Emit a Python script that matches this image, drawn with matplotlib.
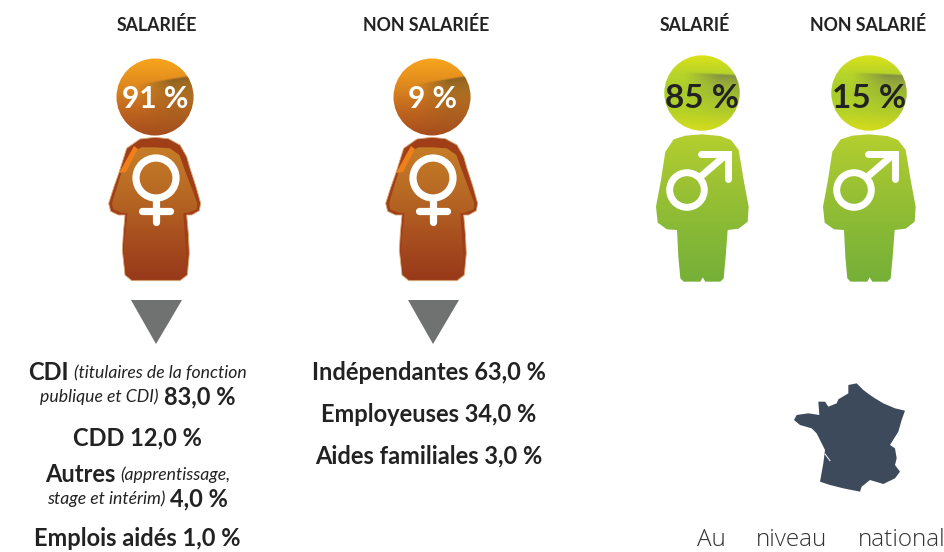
import numpy as np
import matplotlib
matplotlib.use("Agg")
import matplotlib.pyplot as plt
from matplotlib.patches import Circle, Polygon
from matplotlib.colors import LinearSegmentedColormap, to_rgb

# ---- data ----
female_headers = ["SALARIÉE", "NON SALARIÉE"]
male_headers = ["SALARIÉ", "NON SALARIÉ"]
female_pct = [91, 9]
male_pct = [85, 15]
employee_types = ["CDI", "CDD", "Autres", "Emplois aidés"]
employee_vals = ["83,0 %", "12,0 %", "4,0 %", "1,0 %"]
self_types = ["Indépendantes", "Employeuses", "Aides familiales"]
self_vals = ["63,0 %", "34,0 %", "3,0 %"]
footer_words = ["Au", "niveau", "national"]

FONT = "Lato"
W, H = 945, 552
fig = plt.figure(figsize=(W / 100, H / 100), dpi=100, facecolor="white")
ax = fig.add_axes([0, 0, 1, 1])
ax.set_xlim(0, W)
ax.set_ylim(H, 0)
ax.axis("off")

FEMALE_BODY = [(195,292),(235,296),(270,315),(290,350),(300,385),(318,440),(332,490),(328,512),(305,525),(290,525),
               (295,580),(298,640),(292,705),(270,722),(125,722),(105,705),(97,630),(100,580),(105,525),(85,525),
               (62,514),(56,490),(72,440),(88,395),(110,325),(150,297)]
FEMALE_INNER = [(195,322),(240,325),(268,345),(288,400),(322,490),(320,508),(295,518),(280,520),(288,640),(285,705),
                (268,718),(128,718),(108,705),(102,630),(112,520),(92,518),(70,508),(66,490),(95,395),(120,340),(155,322)]
MALE_BODY = [(185,283),(240,288),(272,300),(295,330),(310,420),(325,500),(322,545),(295,566),(262,570),(256,650),
             (250,715),(240,725),(195,725),(187,712),(180,725),(130,725),(120,715),(114,650),(110,570),(80,568),
             (52,548),(47,500),(62,420),(75,335),(100,298),(135,287)]
FRANCE = [(205,45),(230,40),(250,60),(270,75),(285,85),(310,100),(345,115),(375,122),(365,150),(355,185),(330,225),
          (345,235),(350,265),(345,285),(360,305),(345,325),(310,342),(270,330),(245,350),(240,365),(190,355),
          (150,345),(120,335),(130,280),(135,240),(110,190),(95,175),(60,165),(42,150),(50,135),(85,130),(118,135),
          (115,95),(135,95),(145,110),(170,100),(175,88),(205,70)]


def grad_fill(patch, colors, extent, z=2):
    cmap = LinearSegmentedColormap.from_list("g", colors)
    g = np.linspace(0, 1, 128).reshape(-1, 1)
    im = ax.imshow(g, cmap=cmap, extent=extent, aspect="auto", zorder=z)
    patch.set_transform(ax.transData)
    im.set_clip_path(patch)
    return im


def sheen(cx, cy, rad, color, p0, p1, strength, fade=.45):
    """soft darker band below a line across the head, fading left and downward"""
    xs, ys = np.meshgrid(np.linspace(-1, 1, 200), np.linspace(-1, 1, 200))
    line = p0[1] + (p1[1] - p0[1]) * (xs - p0[0]) / (p1[0] - p0[0])
    d = ys - line
    a = np.where(d > 0, np.exp(-d / fade), 0) * np.clip(d / .05, 0, 1)
    a *= np.clip((xs + .45) / .9, 0, 1) * strength
    rgba = np.zeros((200, 200, 4))
    rgba[..., :3] = to_rgb(color)
    rgba[..., 3] = a
    im = ax.imshow(rgba, extent=(cx-rad, cx+rad, cy+rad, cy-rad), aspect="auto", zorder=3)
    im.set_clip_path(Circle((cx, cy), rad, transform=ax.transData))


def body_patch(points, cx, zcx, y0):
    pts = [(cx + (x - zcx) / 3, y0 + y / 3) for x, y in points]
    return Polygon(pts, closed=True, joinstyle="round")


def female(cx, pct):
    cy = 97
    head = Circle((cx, cy), 38.5)
    grad_fill(head, ["#f8a51c", "#e08a1f", "#c0661f", "#a84c1d"], (cx-39, cx+39, cy+39, cy-39))
    sheen(cx, cy, 38.5, "#7c5a24", (-.13, -.39), (.9, -.56), .9, fade=.7)
    ax.add_patch(body_patch(FEMALE_BODY, cx, 195, 40)).set(fc="#a03e18", ec="#d8a878", lw=.6, zorder=2)
    inner = body_patch(FEMALE_INNER, cx, 195, 40)
    grad_fill(inner, ["#c67d27", "#b86a24", "#a9501f", "#98391a"], (cx-46, cx+46, 280, 146), z=3)
    ax.add_patch(Polygon([(cx-21, 146), (cx-36, 173), (cx-29, 172), (cx-17, 149)], closed=True, fc="#ef7f1a", ec="none", zorder=4))
    ax.add_patch(Circle((cx + 1, 178), 20, fc="none", ec="white", lw=5.2, zorder=5))
    ax.plot([cx + 1, cx + 1], [198, 222], color="white", lw=5.2, solid_capstyle="round", zorder=5)
    ax.plot([cx - 13, cx + 15], [211, 211], color="white", lw=5.2, solid_capstyle="round", zorder=5)
    ax.text(cx, cy + 2, f"{pct} %", color="white", fontsize=21.5, fontweight="bold", family=FONT, ha="center", va="center", zorder=6)
    ax.add_patch(Polygon([(cx-24, 300), (cx+27, 300), (cx+1, 344)], closed=True, fc="#6f7271", ec="none"))


def male(cx, pct):
    cy = 93
    head = Circle((cx, cy), 37.7)
    grad_fill(head, ["#dbe218", "#b6d42a", "#a9cc2c", "#b6d228", "#d6de1c"], (cx-38, cx+38, cy+38, cy-38))
    sheen(cx, cy, 37.7, "#77804a", (-.1, -.55), (.9, -.5), .9, fade=.4)
    body = body_patch(MALE_BODY, cx, 185, 40)
    grad_fill(body, ["#b4cf2e", "#9cc233", "#87b936", "#76b038"], (cx-48, cx+48, 282, 134))
    ax.add_patch(Circle((cx - 15, 190), 17.3, fc="none", ec="white", lw=5, zorder=5))
    ax.plot([cx - 3, cx + 25], [178, 154], color="white", lw=5, solid_capstyle="butt", zorder=5)
    ax.plot([cx - 1, cx + 26, cx + 26], [154, 154, 179], color="white", lw=5, solid_capstyle="round", solid_joinstyle="miter", zorder=5)
    ax.text(cx, cy + 5, f"{pct} %", color="#222222", fontsize=24, fontweight="bold", family=FONT, ha="center", va="center", zorder=6)


for x, t in zip([157, 426.5], female_headers):
    ax.text(x, 25, t, fontsize=12.8, fontweight="bold", family=FONT, color="#222222", ha="center", va="center")
for x, t in zip([695, 868.5], male_headers):
    ax.text(x, 25, t, fontsize=12.8, fontweight="bold", family=FONT, color="#222222", ha="center", va="center")

female(155, female_pct[0])
female(432, female_pct[1])
male(702, male_pct[0])
male(869, male_pct[1])

r = fig.canvas.get_renderer()


def runs(cx, y, parts):
    items = []
    for s, size, weight, style in parts:
        t = ax.text(0, y, s, fontsize=size, fontweight=weight, fontstyle=style, family=FONT, color="#222222", ha="left", va="center")
        items.append(t)
    widths = [t.get_window_extent(r).width for t in items]
    x = cx - (sum(widths) + 5 * (len(items) - 1)) / 2
    for t, w in zip(items, widths):
        t.set_x(x)
        x += w + 5


B = (17, "bold", "normal")
I = (12.7, "normal", "italic")
runs(137.5, 373, [(employee_types[0], *B), ("(titulaires de la fonction", *I)])
runs(137.5, 397, [("publique et CDI)", *I), (employee_vals[0], *B)])
runs(137.5, 438, [(f"{employee_types[1]} {employee_vals[1]}", *B)])
runs(137.5, 475, [(employee_types[2], *B), ("(apprentissage,", *I)])
runs(137.5, 499, [("stage et intérim)", *I), (employee_vals[2], *B)])
runs(137.5, 538, [(f"{employee_types[3]} {employee_vals[3]}", *B)])

for y, a, b in zip([372, 414, 456], self_types, self_vals):
    runs(429, y, [(f"{a} {b}", *B)])

ax.add_patch(Polygon([(780 + x / 3, 370 + y / 3) for x, y in FRANCE], closed=True, fc="#3d4a5c", ec="none"))
ax.plot([780 + 135 / 3, 780 + 150 / 3], [370 + 252 / 3, 370 + 272 / 3], color="white", lw=.7)

for x, ha, w in zip([697, 791.5, 945], ["left", "center", "right"], footer_words):
    ax.text(x, 540, w, fontsize=17.5, family="Open Sans", fontweight="light", color="#333333", ha=ha, va="center")

fig.savefig("out.png", dpi=100, facecolor="white")
